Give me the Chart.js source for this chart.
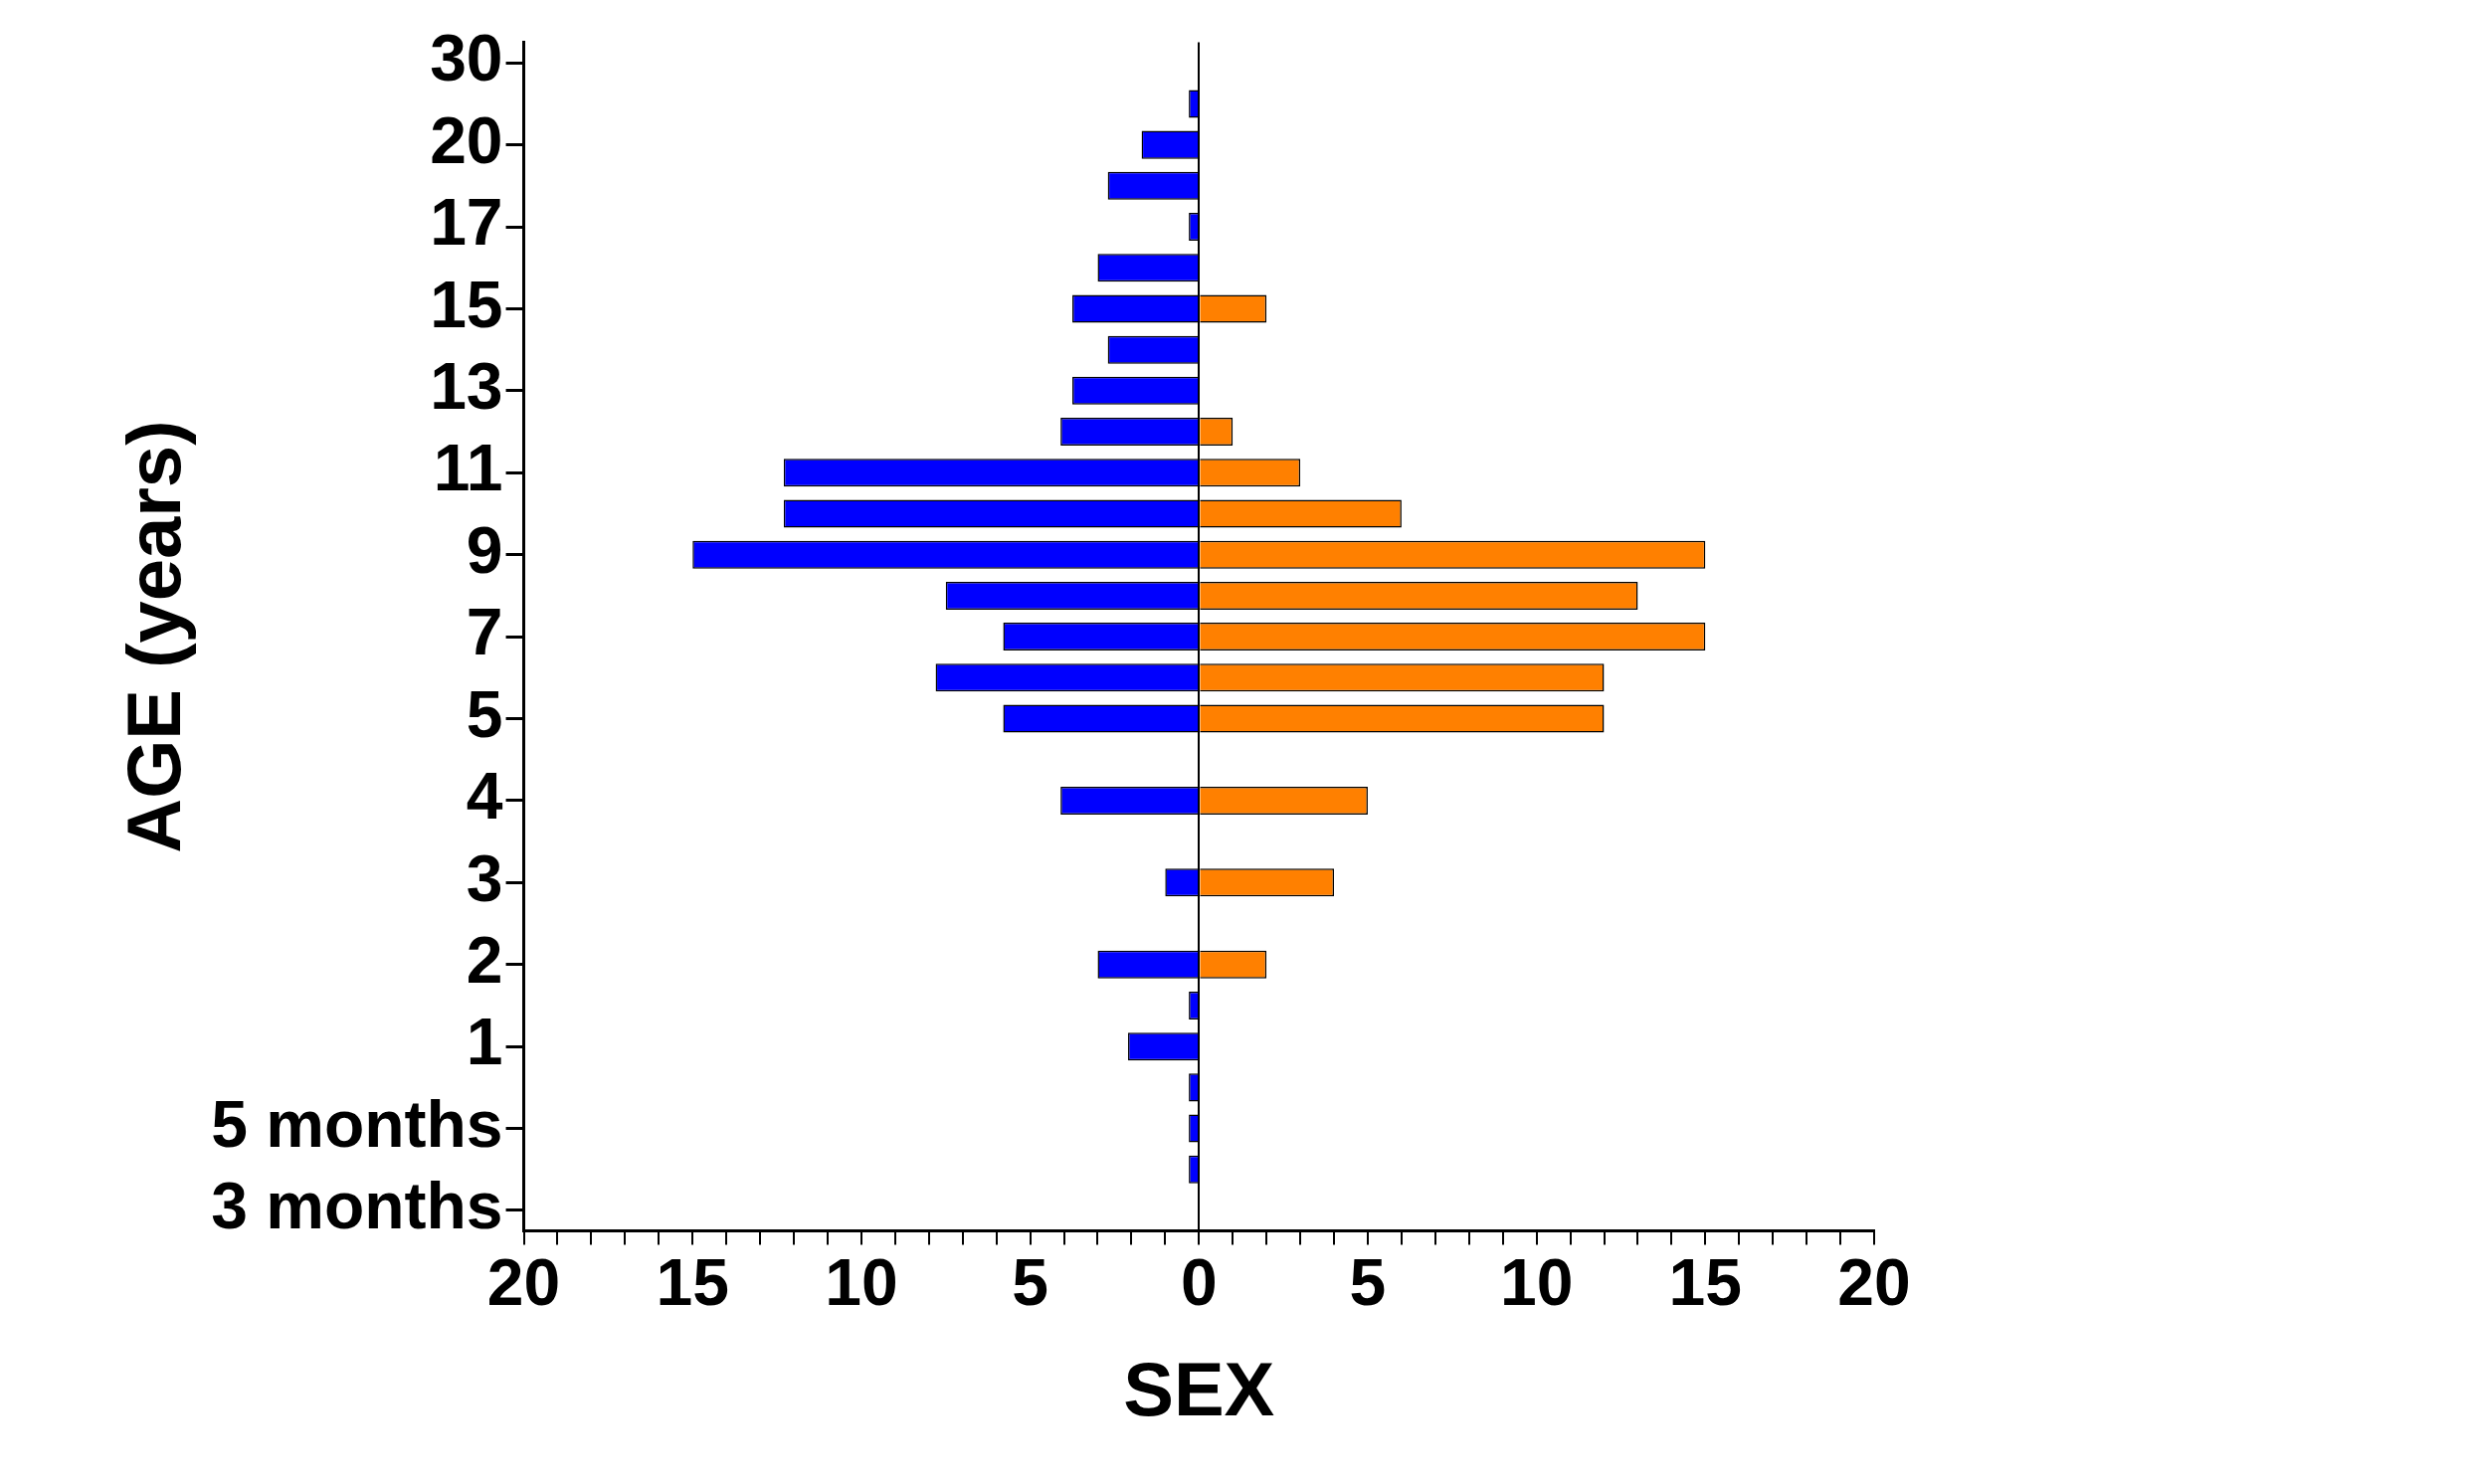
<!DOCTYPE html>
<html>
<head>
<meta charset="utf-8">
<script src="https://cdn.jsdelivr.net/npm/chart.js@4"></script>
<style>
  html, body { margin: 0; background: #fff; }
  #wrap { width: 2484px; height: 1492px; }
</style>
</head>
<body>
<div id="wrap"><canvas id="pyramid"></canvas></div>
<script>
// age slots, top to bottom (unlabelled slots have an empty tick label)
const ageSlots = ['30', '25', '20', '18', '17', '16', '15', '14', '13', '12', '11', '10', '9', '8', '7', '6', '5', '4.5', '4', '3.5', '3', '2.5', '2', '1.5', '1', '7 months', '5 months', '4 months', '3 months'];
const tickLabels = ['30', '', '20', '', '17', '', '15', '', '13', '', '11', '', '9', '', '7', '', '5', '', '4', '', '3', '', '2', '', '1', '', '5 months', '', '3 months'];
const female = [0, 0.3, 1.7, 2.7, 0.3, 3, 3.75, 2.7, 3.75, 4.1, 12.3, 12.3, 15, 7.5, 5.8, 7.8, 5.8, 0, 4.1, 0, 1, 0, 3, 0.3, 2.1, 0.3, 0.3, 0.3, 0];
const male = [0, 0, 0, 0, 0, 0, 2, 0, 0, 1, 3, 6, 15, 13, 15, 12, 12, 0, 5, 0, 4, 0, 2, 0, 0, 0, 0, 0, 0];

const font = 'Liberation Sans, Arial, sans-serif';

// legend drawn to the right of the plot, like the original figure
const sideLegend = {
    id: 'sideLegend',
    afterDraw(chart) {
        const c = chart.ctx;
        c.save();
        c.font = '74px ' + font;
        c.textBaseline = 'middle';
        chart.data.datasets.forEach((d, i) => {
            const y = 138 + i * 86;
            c.fillStyle = d.backgroundColor;
            c.fillRect(2083, y - 26, 52, 52);
            c.strokeStyle = '#000';
            c.lineWidth = 2;
            c.strokeRect(2083, y - 26, 52, 52);
            c.fillStyle = '#111';
            c.fillText(d.label, 2215, y + 2);
        });
        c.restore();
    }
};

new Chart(document.getElementById('pyramid').getContext('2d'), {
    type: 'bar',
    data: {
        labels: ageSlots,
        datasets: [
            { label: 'Female', data: female.map(v => -v), backgroundColor: '#0000ff', borderColor: '#000', borderWidth: 1.5, barPercentage: 0.68, categoryPercentage: 1 },
            { label: 'Male', data: male, backgroundColor: '#ff8000', borderColor: '#000', borderWidth: 1.5, barPercentage: 0.68, categoryPercentage: 1 }
        ]
    },
    options: {
        indexAxis: 'y',
        responsive: true,
        maintainAspectRatio: false,
        animation: false,
        layout: { padding: { top: 24, right: 600, left: 110, bottom: 40 } },
        plugins: {
            tooltip: { enabled: false },
            legend: { display: false }
        },
        scales: {
            x: {
                stacked: true,
                min: -20, max: 20,
                ticks: {
                    stepSize: 1,
                    autoSkip: false,
                    maxRotation: 0,
                    color: '#000',
                    font: { family: font, size: 66, weight: 'bold' },
                    callback: v => (v % 5 === 0 ? Math.abs(v) : '')
                },
                grid: {
                    drawOnChartArea: true,
                    color: c => (c.tick && c.tick.value === 0 ? '#000' : 'rgba(0,0,0,0)'),
                    tickColor: '#000',
                    tickLength: 14,
                    lineWidth: 2
                },
                border: { color: '#000', width: 3 },
                title: { display: true, text: 'SEX', color: '#000', font: { family: font, size: 76, weight: 'bold' }, padding: { top: 20 } }
            },
            y: {
                stacked: true,
                ticks: {
                    autoSkip: false,
                    color: '#000',
                    font: { family: font, size: 66, weight: 'bold' },
                    callback: (v, i) => tickLabels[i]
                },
                grid: {
                    offset: false,
                    drawOnChartArea: false,
                    color: c => (tickLabels[c.index] ? '#000' : 'rgba(0,0,0,0)'),
                    tickLength: 18,
                    lineWidth: 3
                },
                border: { color: '#000', width: 3 },
                title: { display: true, text: 'AGE (years)', color: '#000', font: { family: font, size: 76, weight: 'bold' } }
            }
        }
    }
});
</script>
</body>
</html>
